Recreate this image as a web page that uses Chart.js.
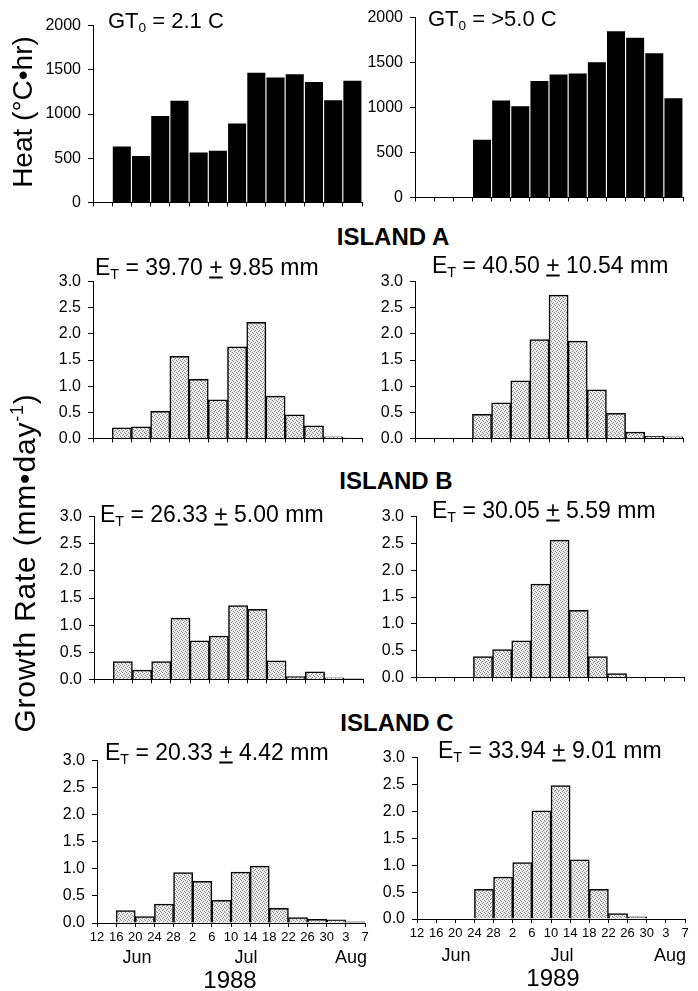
<!DOCTYPE html>
<html lang="en">
<head>
<meta charset="UTF-8" />
<title>Heat and growth rate 1988 / 1989</title>
<style>
  body {
    margin: 0;
    background: #fff;
    color: #000;
    font-family: 'Liberation Sans', Arial, sans-serif;
  }
  #page {
    position: relative;
    width: 698px;
    height: 991px;
    overflow: hidden;
  }
  canvas { position: absolute; }
  .t { position: absolute; white-space: nowrap; line-height: 1; }
  .c { transform: translate(-50%, -50%); }
  .l { transform: translate(0, -50%); }
  .rot { transform: translate(-50%, -50%) rotate(-90deg); }
  sub { font-size: 0.62em; vertical-align: -0.3em; line-height: 0; }
  sup { font-size: 0.6em; vertical-align: 0.65em; line-height: 0; }
  .isl { font-weight: bold; font-size: 24px; }
  .et { font-size: 23px; }
  .gt { font-size: 22px; }
  .mon { font-size: 18px; }
  .yr { font-size: 24px; }
  .ttl { font-size: 28px; }
  .ttl2 { font-size: 30px; letter-spacing: 0.8px; }
</style>
</head>
<body>

<div id="page"></div>

<script src="https://cdn.jsdelivr.net/npm/chart.js"></script>
<script>
// x axis: 14 four-day bins, 12 Jun .. 7 Aug (labels sit on bin edges)
const dayTicks = ['12','16','20','24','28','2','6','10','14','18','22','26','30','3','7'];
const heatTicks = [0, 500, 1000, 1500, 2000];
const growthTicks = [0, 0.5, 1, 1.5, 2, 2.5, 3];

// one value per bin, null = no bar
const heat1988 = [null, 631, 525, 976, 1149, 565, 583, 892, 1468, 1413, 1450, 1361, 1156, 1376];
const heat1989 = [null, null, null, 640, 1079, 1014, 1295, 1367, 1378, 1504, 1849, 1777, 1604, 1104];

const islandA1988 = [null, 0.20, 0.22, 0.52, 1.57, 1.13, 0.74, 1.75, 2.22, 0.81, 0.45, 0.24, 0.03, 0.01];
const islandA1989 = [null, null, null, 0.46, 0.68, 1.10, 1.89, 2.74, 1.86, 0.93, 0.48, 0.12, 0.04, 0.03];
const islandB1988 = [null, 0.33, 0.17, 0.33, 1.13, 0.71, 0.80, 1.36, 1.29, 0.34, 0.05, 0.14, 0.03, 0.01];
const islandB1989 = [null, null, null, 0.39, 0.52, 0.68, 1.74, 2.56, 1.25, 0.39, 0.07, null, null, null];
const islandC1988 = [null, 0.23, 0.12, 0.35, 0.93, 0.77, 0.42, 0.94, 1.05, 0.27, 0.10, 0.07, 0.06, 0.02];
const islandC1989 = [null, null, null, 0.55, 0.78, 1.05, 2.01, 2.48, 1.10, 0.55, 0.10, 0.04, null, null];

Chart.defaults.font.family = "'Liberation Sans', Arial, sans-serif";
Chart.defaults.color = '#000';

const page = document.getElementById('page');

// fine dotted grey fill like the printed stipple
function stipple() {
  const c = document.createElement('canvas');
  c.width = 4; c.height = 4;
  const g = c.getContext('2d');
  g.fillStyle = '#e8e8e8';
  g.fillRect(0, 0, 4, 4);
  g.fillStyle = '#909090';
  g.fillRect(0, 0, 1, 1);
  g.fillRect(2, 1, 1, 1);
  g.fillRect(1, 2, 1, 1);
  g.fillRect(3, 3, 1, 1);
  return c.getContext('2d').createPattern(c, 'repeat');
}
const dots = stipple();

// box = chart area [left, top, right, bottom] in page pixels
function panel(values, box, kind, bottomRow) {
  const [L, T, R, B] = box;
  const yw = 60, pad = 14, xh = bottomRow ? 30 : 14;
  const cv = document.createElement('canvas');
  const w = (R - L) + yw + pad, h = (B - T) + pad + xh;
  cv.width = w; cv.height = h;
  cv.style.left = (L - yw) + 'px';
  cv.style.top = (T - pad) + 'px';
  page.appendChild(cv);

  const points = [];
  values.forEach((v, i) => { if (v !== null) points.push({ x: i + 0.5, y: v }); });

  const isHeat = kind === 'heat';
  const yTicks = isHeat ? heatTicks : growthTicks;

  new Chart(cv, {
    type: 'bar',
    data: {
      datasets: [{
        data: points,
        backgroundColor: isHeat ? '#000' : dots,
        borderColor: '#000',
        borderWidth: isHeat ? 0 : 1.5,
        barPercentage: isHeat ? 0.94 : 1,
        categoryPercentage: 1
      }]
    },
    options: {
      responsive: false,
      animation: false,
      events: [],
      layout: { padding: { top: pad, right: pad, left: 0, bottom: 0 } },
      plugins: { legend: { display: false }, tooltip: { enabled: false } },
      scales: {
        x: {
          type: 'linear',
          min: 0, max: 14,
          offset: false,
          afterFit: s => { s.height = xh; },
          afterBuildTicks: s => { s.ticks = dayTicks.map((_, i) => ({ value: i })); },
          ticks: {
            display: bottomRow,
            autoSkip: false,
            maxRotation: 0,
            padding: 3,
            font: { size: 13 },
            callback: v => dayTicks[v]
          },
          grid: { offset: false, drawOnChartArea: false, tickLength: 4, color: '#000' },
          border: { color: '#000', width: 1 }
        },
        y: {
          min: 0, max: yTicks[yTicks.length - 1],
          afterFit: s => { s.width = yw; },
          afterBuildTicks: s => { s.ticks = yTicks.map(v => ({ value: v })); },
          ticks: {
            padding: 7,
            font: { size: 16 },
            callback: v => isHeat ? String(v) : v.toFixed(1)
          },
          grid: { drawOnChartArea: false, tickLength: 5, color: '#000' },
          border: { color: '#000', width: 1 }
        }
      }
    }
  });
}

function addText(html, x, y, cls) {
  const d = document.createElement('div');
  d.className = 't ' + cls;
  d.innerHTML = html;
  d.style.left = x + 'px';
  d.style.top = y + 'px';
  page.appendChild(d);
}

panel(heat1988, [93, 23, 362, 205], 'heat', false);
panel(heat1989, [415, 15, 683, 200], 'heat', false);
panel(islandA1988, [93, 279, 362, 441], 'growth', false);
panel(islandA1989, [415, 279, 683, 441], 'growth', false);
panel(islandB1988, [94, 514, 363, 682], 'growth', false);
panel(islandB1989, [416, 514, 684, 680], 'growth', false);
panel(islandC1988, [97, 758, 365, 923], 'growth', true);
panel(islandC1989, [417, 755, 685, 919], 'growth', true);

// axis titles (rotated)
addText('Heat (°C•hr)', 23, 112, 'rot ttl');
addText('Growth Rate (mm•day<sup>-1</sup>)', 25, 563, 'rot ttl2');

// panel headings
addText('GT<sub>0</sub> = 2.1 C', 108, 21, 'l gt');
addText('GT<sub>0</sub> = &gt;5.0 C', 428, 19, 'l gt');

addText('ISLAND A', 393, 237, 'c isl');
addText('ISLAND B', 396, 481, 'c isl');
addText('ISLAND C', 397, 723, 'c isl');

addText('E<sub>T</sub> = 39.70 <u>+</u> 9.85 mm', 95, 267, 'l et');
addText('E<sub>T</sub> = 40.50 <u>+</u> 10.54 mm', 432, 265, 'l et');
addText('E<sub>T</sub> = 26.33 <u>+</u> 5.00 mm', 100, 514, 'l et');
addText('E<sub>T</sub> = 30.05 <u>+</u> 5.59 mm', 432, 510, 'l et');
addText('E<sub>T</sub> = 20.33 <u>+</u> 4.42 mm', 105, 752, 'l et');
addText('E<sub>T</sub> = 33.94 <u>+</u> 9.01 mm', 438, 750, 'l et');

// months and years under the bottom row
addText('Jun', 137, 957, 'c mon');
addText('Jul', 246, 957, 'c mon');
addText('Aug', 351, 957, 'c mon');
addText('Jun', 456, 955, 'c mon');
addText('Jul', 562, 955, 'c mon');
addText('Aug', 670, 955, 'c mon');
addText('1988', 230, 980, 'c yr');
addText('1989', 553, 978, 'c yr');
</script>

</body>
</html>
